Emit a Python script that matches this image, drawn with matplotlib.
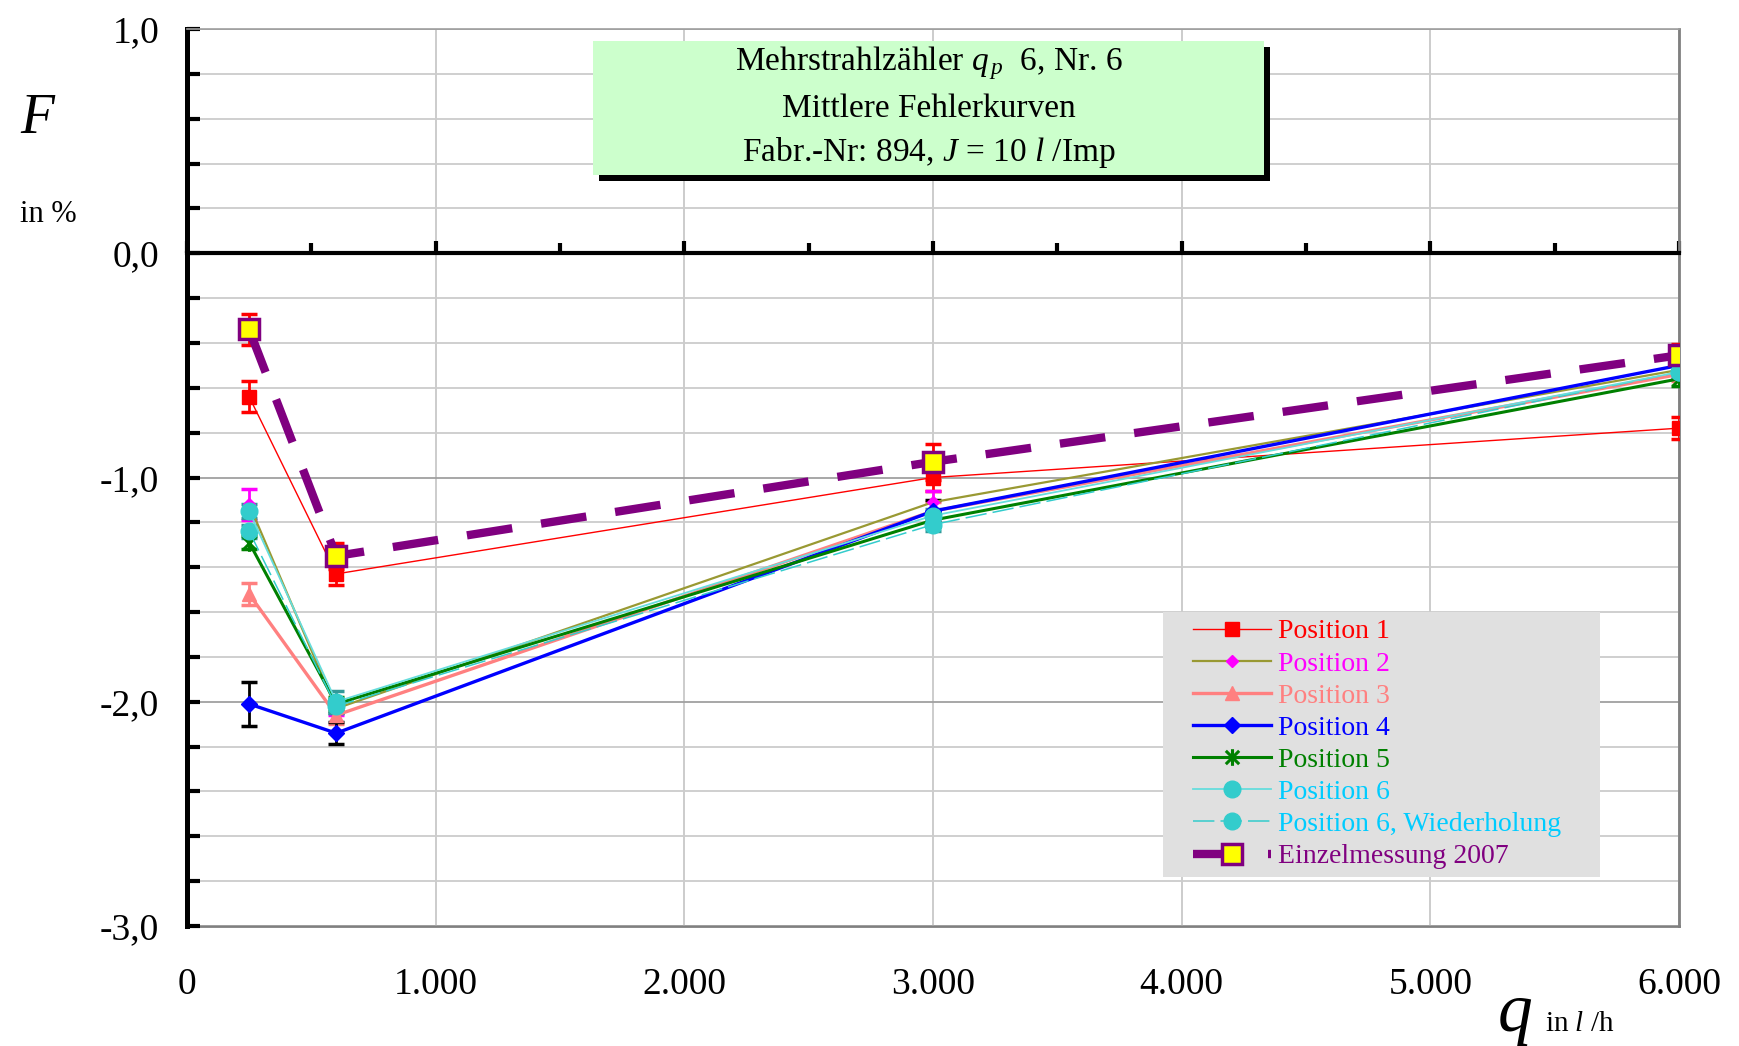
"""Mittlere Fehlerkurven eines Mehrstrahlzählers q_p 6 (Nr. 6) -> out.png"""

import matplotlib
matplotlib.use("Agg")
import matplotlib.pyplot as plt
import numpy as np
from matplotlib.patches import Rectangle
from matplotlib.path import Path
from matplotlib.ticker import FuncFormatter, MultipleLocator

plt.rcParams.update({
    "font.family": "Liberation Serif",
    "mathtext.fontset": "custom",
    "mathtext.rm": "Liberation Serif",
    "mathtext.it": "Liberation Serif:italic",
})

# Durchfluss q in l/h
q = [250, 600, 3000, 6000]

# Fehler F in %
pos1 = [-0.64, -1.43, -1.00, -0.78]
pos2 = [-1.12, -2.03, -1.11, -0.52]
pos3 = [-1.52, -2.06, -1.15, -0.54]
pos4 = [-2.01, -2.14, -1.15, -0.50]
pos5 = [-1.29, -2.01, -1.19, -0.56]
pos6 = [-1.15, -2.00, -1.17, -0.53]
pos6_w = [-1.24, -2.02, -1.21, -0.53]
einzel_2007 = [-0.34, -1.35, -0.93, -0.455]

# Standardabweichungen (Fehlerbalken)
err1 = [0.07, 0.05, 0.06, 0.05]
err2 = [0.07, 0.03, 0.05, 0.03]
err3 = [0.05, 0.04, 0.04, 0.03]
err4 = [0.10, 0.05, 0.05, 0.03]
err5 = [0.03, 0.03, 0.03, 0.03]
err6 = [0.03, 0.05, 0.03, 0.03]
err6_w = [0.03, 0.03, 0.03, 0.03]
err_einzel = [0.07, 0.06, 0.08, 0.05]

x_ticks = [0, 1000, 2000, 3000, 4000, 5000, 6000]

labels = ["Position 1", "Position 2", "Position 3", "Position 4", "Position 5",
          "Position 6", "Position 6, Wiederholung", "Einzelmessung 2007"]
label_colors = ["#FF0000", "#FF00FF", "#FF8080", "#0000FF", "#008000",
                "#00CCFF", "#00CCFF", "#800080"]

# Sternchen-Marker (X mit senkrechtem Strich)
ASTERISK = Path([(0, -1), (0, 1), (-0.8, -0.8), (0.8, 0.8), (-0.8, 0.8), (0.8, -0.8)],
                [Path.MOVETO, Path.LINETO, Path.MOVETO, Path.LINETO, Path.MOVETO, Path.LINETO])

W, H = 1739, 1046
fig = plt.figure(figsize=(W / 100, H / 100), dpi=100)
ax = fig.add_axes([187 / W, 1 - 926 / H, (1679 - 187) / W, (926 - 29) / H])
ax.set_xlim(0, 6000)
ax.set_ylim(-3, 1)

# Achsen
ax.spines["left"].set(color="black", lw=3.6)
ax.spines["bottom"].set_position(("data", 0))
ax.spines["bottom"].set(color="black", lw=3)
ax.spines["top"].set(color="#A0A0A0", lw=1.2)
ax.spines["right"].set(color="#808080", lw=2)

ax.xaxis.set_major_locator(MultipleLocator(1000))
ax.xaxis.set_minor_locator(MultipleLocator(500))
ax.tick_params(axis="x", which="both", direction="in", labelbottom=False,
               width=3, color="black")
ax.tick_params(axis="x", which="major", length=9)
ax.tick_params(axis="x", which="minor", length=7)

ax.set_yticks(np.arange(-3, 1.01, 1))
ax.yaxis.set_minor_locator(MultipleLocator(0.2))
ax.yaxis.set_major_formatter(FuncFormatter(lambda v, _: f"{v:.1f}".replace(".", ",")))
ax.tick_params(axis="y", which="both", direction="in", width=3, length=9, color="black")
ax.tick_params(axis="y", which="major", labelsize=27, pad=20)

ax.grid(which="major", axis="y", color="#A0A0A0", lw=1.3)
ax.grid(which="minor", axis="y", color="#CCCCCC", lw=1.3)
ax.grid(which="major", axis="x", color="#C8C8C8", lw=1.3)
ax.set_axisbelow(True)

sec = ax.secondary_xaxis("bottom")
sec.set_xticks(x_ticks, [f"{v:,}".replace(",", ".") for v in x_ticks])
sec.tick_params(length=0, pad=30, labelsize=27)
sec.spines["bottom"].set(color="#808080", lw=2)

# Kurven
handles = []
handles += ax.plot(q, pos1, color="#FF0000", lw=1, marker="s", ms=10, mfc="#FF0000",
                   mec="#FF0000", zorder=3)
handles += ax.plot(q, pos2, color="#999933", lw=1.6, marker="D", ms=6.5, mfc="#FF00FF",
                   mec="#FF00FF", zorder=3)
handles += ax.plot(q, pos3, color="#FF8080", lw=2.4, marker="^", ms=10, mfc="#FF8080",
                   mec="#FF8080", zorder=3)
handles += ax.plot(q, pos4, color="#0000FF", lw=2.4, marker="D", ms=8.5, mfc="#0000FF",
                   mec="#0000FF", zorder=3)
handles += ax.plot(q, pos5, color="#008000", lw=2.2, marker=ASTERISK, ms=12, mew=2.2,
                   mec="#008000", zorder=3)
handles += ax.plot(q, pos6, color="#66DDDD", lw=1.3, marker="o", ms=12, mfc="#33CCCC",
                   mec="#33CCCC", zorder=3.2)
handles += ax.plot(q, pos6_w, color="#33CCCC", lw=1.1, ls=(0, (14, 4)), marker="o", ms=12,
                   mfc="#33CCCC", mec="#33CCCC", zorder=3.1)
handles += ax.plot(q, einzel_2007, color="#800080", lw=6, ls=(0, (5.5, 3.5)), marker="s",
                   ms=14, mfc="#FFFF00", mec="#800080", mew=2.5, zorder=5)

bars = [(pos1, err1, "#FF0000"), (pos2, err2, "#FF00FF"), (pos3, err3, "#FF8080"),
        (pos4, err4, "black"), (pos5, err5, "#008000"), (pos6, err6, "#339999"),
        (pos6_w, err6_w, "#339999"), (einzel_2007, err_einzel, "#FF0000")]
for y, e, c in bars:
    ax.errorbar(q, y, yerr=e, fmt="none", ecolor=c, elinewidth=2, capsize=6,
                capthick=2.5, zorder=2.9)

# Legende mit grauem Kasten
fig.add_artist(Rectangle((1163 / W, 1 - 877 / H), (1600 - 1163) / W, (877 - 612) / H,
                         transform=fig.transFigure, facecolor="#E0E0E0",
                         edgecolor="none", zorder=1))
leg = fig.legend(handles, labels, loc="upper left", bbox_to_anchor=(1193 / W, 1 - 619 / H),
                 frameon=False, fontsize=20, borderpad=0, borderaxespad=0,
                 handlelength=2.8, handletextpad=0.25, labelspacing=0.24)
for t, c in zip(leg.get_texts(), label_colors):
    t.set_color(c)

# Titelkasten mit Schatten
bx, by, bw, bh = 593 / W, 1 - 175 / H, (1264 - 593) / W, (175 - 41) / H
fig.add_artist(Rectangle((bx + 6 / W, by - 6 / H), bw, bh, transform=fig.transFigure,
                         facecolor="black", edgecolor="none", zorder=1))
fig.add_artist(Rectangle((bx, by), bw, bh, transform=fig.transFigure,
                         facecolor="#CCFFCC", edgecolor="none", zorder=1.1))
cx = bx + bw / 2
for yy, txt in [(63, r"Mehrstrahlzähler $q_{\,p}$  6, Nr. 6"),
                (109, "Mittlere Fehlerkurven"),
                (152, r"Fabr.-Nr: 894, $J$ = 10 $l$ /Imp")]:
    fig.text(cx, 1 - yy / H, txt, ha="center", va="center", fontsize=24, zorder=3)

# Achsenbeschriftungen
fig.text(20 / W, 1 - 133 / H, "F", style="italic", fontsize=40, va="baseline")
fig.text(20 / W, 1 - 222 / H, "in %", fontsize=22, va="baseline")
fig.text(1498 / W, 1 - 1031 / H, "q", style="italic", fontsize=50, va="baseline")
fig.text(1545 / W, 1 - 1031 / H, r"in $l$ /h", fontsize=21, va="baseline")

fig.savefig("out.png", dpi=100)
